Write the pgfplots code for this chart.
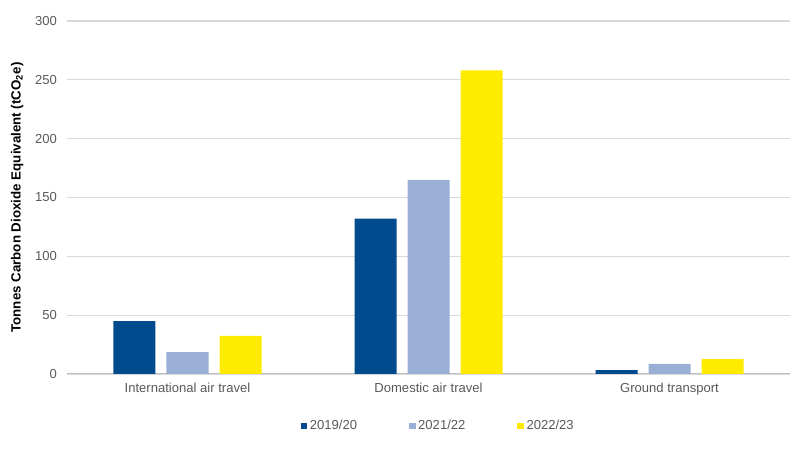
\documentclass[border=0pt]{standalone}
\usepackage{fontspec}
\setmainfont{Liberation Sans}
\usepackage{pgfplots}
\pgfplotsset{compat=1.18}
\definecolor{cA}{RGB}{0,75,141}
\definecolor{cB}{RGB}{154,175,214}
\definecolor{cC}{RGB}{255,235,0}
\definecolor{gridc}{RGB}{217,217,217}
\definecolor{axc}{RGB}{191,191,191}
\definecolor{txt}{RGB}{89,89,89}
\begin{document}
\begin{tikzpicture}
\useasboundingbox (0,0) rectangle (603pt,336.75pt);
\begin{axis}[
  at={(50.25pt,56.25pt)}, anchor=south west,
  scale only axis, width=542.25pt, height=264.75pt,
  ybar=8.25pt, bar width=31.5pt,
  xmin=-0.5, xmax=2.5, ymin=0, ymax=300,
  ytick={0,50,...,300},
  xtick={0,1,2},
  xticklabels={International air travel, Domestic air travel, Ground transport},
  axis line style={draw=none},
  major tick length=0pt,
  ymajorgrids, grid style={gridc, line width=0.8pt},
  /pgf/number format/assume math mode=true,
  tick label style={font=\fontsize{9.8pt}{11pt}\selectfont, text=txt},
  yticklabel style={xshift=-4pt},
  xticklabel style={yshift=-3pt},
  ylabel={\textbf{Tonnes Carbon Dioxide Equivalent (tCO\textsubscript{2}e)}},
  ylabel style={font=\fontsize{9pt}{11pt}\selectfont, text=txt},
  every axis y label/.style={at={(axis description cs:-0.069,0.5)}, rotate=90, anchor=center},
  legend columns=3,
  legend style={draw=none, at={(0.514,-0.147)}, anchor=center,
     font=\fontsize{9.8pt}{11pt}\selectfont, text=txt,
     /tikz/every even column/.append style={column sep=37pt}},
  legend image code/.code={\fill[#1] (0pt,-2.4pt) rectangle (4.8pt,2.4pt);},
  legend cell align=left,
]
\draw[axc, line width=1pt] (axis cs:-0.5,0) -- (axis cs:2.5,0);
\addplot[fill=cA, draw=none] coordinates {(0,45) (1,132) (2,3.2)};
\addplot[fill=cB, draw=none] coordinates {(0,18.5) (1,165) (2,8.5)};
\addplot[fill=cC, draw=none] coordinates {(0,32.3) (1,258) (2,12.7)};
\legend{2019/20, 2021/22, 2022/23}
\end{axis}
\end{tikzpicture}
\end{document}
